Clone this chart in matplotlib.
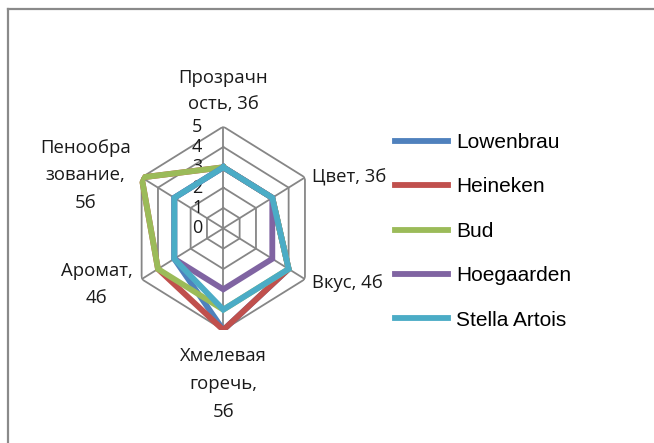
import numpy as np
import matplotlib
matplotlib.use("Agg")
import matplotlib.pyplot as plt
from matplotlib.lines import Line2D
from matplotlib.transforms import offset_copy

categories = ["Прозрачн\nость, 3б", "Цвет, 3б", "Вкус, 4б",
              "Хмелевая\nгоречь,\n5б", "Аромат,\n4б", "Пенообра\nзование,\n5б"]
series_names = ["Lowenbrau", "Heineken", "Bud", "Hoegaarden", "Stella Artois"]
lowenbrau = [3, 3, 4, 5, 3, 3]
heineken = [3, 3, 4, 5, 4, 5]
bud = [3, 3, 4, 4, 4, 5]
hoegaarden = [3, 3, 3, 3, 3, 3]
stella = [3, 3, 4, 4, 3, 3]
levels = [0, 1, 2, 3, 4, 5]
colors = ["#4F81BD", "#C0504D", "#9BBB59", "#8064A2", "#4BACC6"]

W, H = 654, 443
fig = plt.figure(figsize=(W / 100, H / 100), dpi=100)
fig.patch.set_facecolor("white")

# frame of the chart area (top and left edges visible)
fy = 1 - 9 / H
fx = 7.5 / W
fig.add_artist(Line2D([fx, 1.0], [fy, fy], transform=fig.transFigure,
                      color="#8a8a8a", lw=1.6))
fig.add_artist(Line2D([fx, fx], [0.0, fy], transform=fig.transFigure,
                      color="#8a8a8a", lw=1.6))

cx, cy = 223.3, 228.3
rx, ry = 94.3, 101.7
ax = fig.add_axes([(cx - rx) / W, (H - cy - ry) / H, 2 * rx / W, 2 * ry / H],
                  projection="polar")
ax.set_aspect("auto")
ax.set_theta_offset(np.pi / 2)
ax.set_theta_direction(-1)
ax.set_ylim(0, 5)
ax.grid(False)
ax.spines["polar"].set_visible(False)
ax.set_xticks([])
ax.set_yticks([])
ax.patch.set_alpha(0)

n = len(categories)
theta = np.arange(n) * 2 * np.pi / n
theta_c = np.append(theta, theta[0])

grid_col = "#868686"
for lv in levels[1:]:
    ax.plot(theta_c, [lv] * (n + 1), color=grid_col, lw=1.3, zorder=1)
for t in theta:
    ax.plot([t, t], [0, levels[-1]], color=grid_col, lw=1.3, zorder=1)

all_series = [lowenbrau, heineken, bud, hoegaarden, stella]
for name, vals, col in zip(series_names, all_series, colors):
    ax.plot(theta_c, vals + vals[:1], color=col, lw=4.2, label=name,
            solid_joinstyle="miter", zorder=3)

lab_font = ["Open Sans", "DejaVu Sans"]
txt_col = "#1a1a1a"
# radial tick labels
tr = offset_copy(ax.transData, fig=fig, x=-26, y=0, units="dots")
for lv in levels:
    ax.text(0, lv, str(lv), transform=tr, ha="center", va="center",
            fontsize=13, family=lab_font, color=txt_col, zorder=2)

# category labels
offsets = [(0, 14, "center", "bottom", 1.55),
           (7, 0, "left", "center", 1.55),
           (7, -4, "left", "center", 1.55),
           (0, -17, "center", "top", 1.72),
           (-45, -5, "center", "center", 1.65),
           (-56, 2, "center", "center", 1.65)]
for t, lab, (dx, dy, ha, va, ls) in zip(theta, categories, offsets):
    trl = offset_copy(ax.transData, fig=fig, x=dx, y=dy, units="dots")
    ax.text(t, 5, lab, transform=trl, ha=ha, va=va, fontsize=13.3,
            family=lab_font, color=txt_col, linespacing=ls,
            multialignment="center")

leg = fig.legend(loc="upper left", bbox_to_anchor=(395 / W, 1 - 133 / H),
                 frameon=False, prop={"family": ["Liberation Sans", "DejaVu Sans"], "size": 15},
                 handlelength=2.55, handletextpad=0.4, labelspacing=1.22,
                 borderpad=0, borderaxespad=0)
for h in leg.get_lines():
    h.set_linewidth(4.2)

fig.savefig("out.png", dpi=100)
